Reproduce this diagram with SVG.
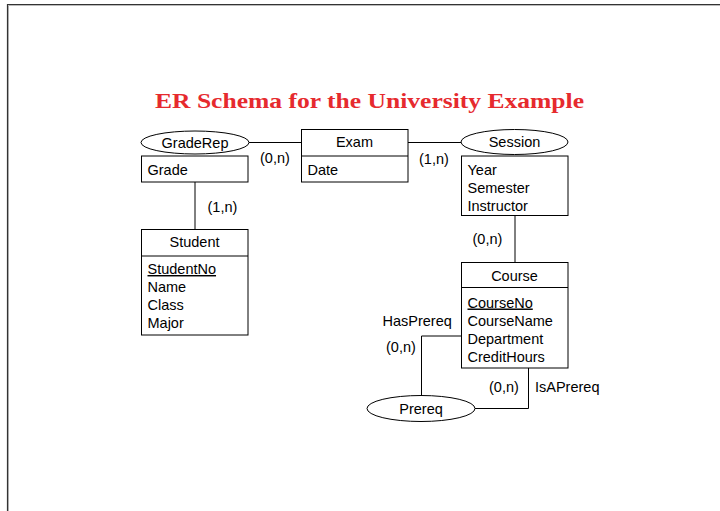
<svg xmlns="http://www.w3.org/2000/svg" width="720" height="511" viewBox="0 0 720 511">
  <style>
    .box { fill: #ffffff; stroke: #000000; stroke-width: 1; }
    .rel { fill: #ffffff; stroke: #000000; stroke-width: 1; }
    .wire { fill: none; stroke: #000000; stroke-width: 1; }
    .t { font-family: "Liberation Sans", Arial, sans-serif; font-size: 14.5px; fill: #000000; }
    .c { text-anchor: middle; }
    .key { text-decoration: underline; }
    .title { font-family: "Liberation Serif", "Times New Roman", serif; font-weight: bold; font-size: 21px; fill: #e62a2e; }
  </style>

  <rect x="0" y="0" width="720" height="511" fill="#ffffff"/>
  <!-- page frame -->
  <path d="M8.5,511 V5.5 H720" fill="none" stroke="#bbbbbb" stroke-width="1"/>
  <path d="M7.5,511 V4.5 H720" fill="none" stroke="#333333" stroke-width="1.2"/>

  <text class="title" x="155" y="108" textLength="429" lengthAdjust="spacingAndGlyphs">ER Schema for the University Example</text>

  <!-- connectors -->
  <g id="connectors">
    <line class="wire" x1="249" y1="142.5" x2="301" y2="142.5"/>
    <line class="wire" x1="408" y1="142.5" x2="461" y2="142.5"/>
    <line class="wire" x1="195" y1="182" x2="195" y2="229.5"/>
    <line class="wire" x1="515" y1="215.5" x2="515" y2="262.5"/>
    <polyline class="wire" points="461,336 421.5,336 421.5,395"/>
    <polyline class="wire" points="475,408.5 528.5,408.5 528.5,368"/>
    <text class="t" x="260" y="163">(0,n)</text>
    <text class="t" x="419" y="164">(1,n)</text>
    <text class="t" x="207.5" y="211.5">(1,n)</text>
    <text class="t" x="472.5" y="244">(0,n)</text>
    <text class="t" x="382.5" y="326">HasPrereq</text>
    <text class="t" x="386" y="352">(0,n)</text>
    <text class="t" x="489" y="392">(0,n)</text>
    <text class="t" x="535" y="392">IsAPrereq</text>
  </g>

  <!-- GradeRep relationship with its attribute -->
  <g id="GradeRep">
    <ellipse class="rel" cx="195" cy="142.5" rx="54" ry="11.5"/>
    <text class="t c" x="195" y="147.5">GradeRep</text>
    <rect class="box" x="141.5" y="156" width="106.5" height="26"/>
    <text class="t" x="147.5" y="174.5">Grade</text>
  </g>

  <!-- Exam entity -->
  <g id="Exam">
    <rect class="box" x="301.5" y="129.5" width="106.5" height="52.5"/>
    <line class="wire" x1="301.5" y1="156" x2="408" y2="156"/>
    <text class="t c" x="354.5" y="147">Exam</text>
    <text class="t" x="307.5" y="174.5">Date</text>
  </g>

  <!-- Session relationship with its attributes -->
  <g id="Session">
    <ellipse class="rel" cx="514.5" cy="142" rx="53.5" ry="12.5"/>
    <text class="t c" x="514.5" y="147">Session</text>
    <rect class="box" x="461.5" y="156" width="106.5" height="59.5"/>
    <text class="t" x="467.5" y="175">Year</text>
    <text class="t" x="467.5" y="193">Semester</text>
    <text class="t" x="467.5" y="211">Instructor</text>
  </g>

  <!-- Student entity -->
  <g id="Student">
    <rect class="box" x="141.5" y="229.5" width="106.5" height="105.5"/>
    <line class="wire" x1="141.5" y1="256" x2="248" y2="256"/>
    <text class="t c" x="194.5" y="247">Student</text>
    <text class="t key" x="147.5" y="274">StudentNo</text>
    <text class="t" x="147.5" y="292">Name</text>
    <text class="t" x="147.5" y="310">Class</text>
    <text class="t" x="147.5" y="328">Major</text>
  </g>

  <!-- Course entity -->
  <g id="Course">
    <rect class="box" x="461.5" y="262.5" width="106.5" height="105.5"/>
    <line class="wire" x1="461.5" y1="287.5" x2="568" y2="287.5"/>
    <text class="t c" x="514.5" y="280.5">Course</text>
    <text class="t key" x="467.5" y="307.5">CourseNo</text>
    <text class="t" x="467.5" y="325.5">CourseName</text>
    <text class="t" x="467.5" y="343.5">Department</text>
    <text class="t" x="467.5" y="361.5">CreditHours</text>
  </g>

  <!-- Prereq relationship -->
  <g id="Prereq">
    <ellipse class="rel" cx="421" cy="408.5" rx="54" ry="13"/>
    <text class="t c" x="421" y="413.5">Prereq</text>
  </g>
</svg>
